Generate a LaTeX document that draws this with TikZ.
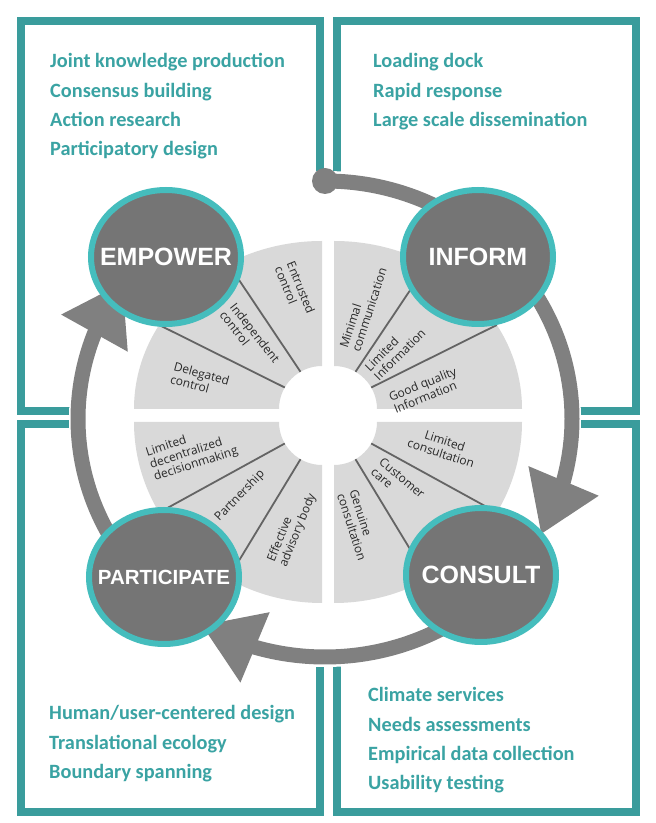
\documentclass[tikz,border=0pt]{standalone}
\usepackage{fontspec}
\usetikzlibrary{shapes.geometric, arrows.meta, bending}
\newfontfamily\itemfont{Carlito}
\newfontfamily\stagefont{Liberation Sans}
\newfontfamily\sectorfont{Open Sans}
\definecolor{boxteal}{RGB}{58,156,156}
\definecolor{textteal}{RGB}{58,163,163}
\definecolor{rimteal}{RGB}{69,189,189}
\definecolor{stagegray}{RGB}{117,117,117}
\definecolor{ringgray}{RGB}{128,128,128}
\definecolor{sectorgray}{RGB}{217,217,217}
\definecolor{spokegray}{RGB}{100,100,100}
\definecolor{labelgray}{RGB}{40,40,40}

\begin{document}
\begin{tikzpicture}[x=1pt, y=1pt,
    panel/.style={draw=boxteal, line width=8pt},
    item/.style={anchor=base west, inner sep=0pt, text=textteal, font=\itemfont\bfseries\fontsize{20.3}{20.3}\selectfont},
    stage/.style={ellipse, draw=rimteal, line width=6pt, fill=stagegray, minimum width=150pt, minimum height=134pt, inner sep=0pt, text=white, font=\stagefont\bfseries\fontsize{25}{25}\selectfont},
    sector/.style={fill=sectorgray},
    spoke/.style={draw=spokegray, line width=1.8pt},
    seclabel/.style={align=left, inner sep=0pt, text=labelgray, font=\sectorfont\fontsize{12}{13}\selectfont},
    ringarc/.style={draw=ringgray, line width=15pt, -{Triangle[length=58pt, width=72pt]}}
]
    \useasboundingbox (0,0) rectangle (656,823);
    \fill[white] (0,0) rectangle (656,823);

    % les quatre cadres
    \draw[panel] (21,412) rectangle (320,802);
    \draw[panel] (337,412) rectangle (636,802);
    \draw[panel] (21,11) rectangle (320,399);
    \draw[panel] (337,11) rectangle (636,399);

    % fond blanc sous l'anneau
    \coordinate (ringc) at (325,404);
    \fill[white] (ringc) ellipse[x radius=256, y radius=248];

    % roue en quatre quarts
    \foreach \cx/\cy/\a/\ry in {322/414/90/168, 334/414/0/168, 334/401/270/181, 322/401/180/181}{
        \begin{scope}[shift={(\cx,\cy)}]
            \fill[sector] (\a:43) -- (\a:188 and \ry) arc[start angle=\a, delta angle=90, x radius=188, y radius=\ry] -- (\a+90:43) arc[start angle=\a+90, delta angle=-90, radius=43] -- cycle;
            \foreach \s in {30,60}
                \draw[spoke] (\a+\s:43) -- (\a+\s:188 and \ry);
        \end{scope}
    }

    % anneau avec flèches
    \path (ringc) ++(90:247 and 238) coordinate (ringtop);
    \path (ringc) ++(-45:247 and 238) coordinate (ringright);
    \path (ringc) ++(215:247 and 238) coordinate (ringleft);
    \draw[ringarc] (ringtop) arc[start angle=90, end angle=-29, x radius=247, y radius=238];
    \draw[ringarc] (ringright) arc[start angle=-45, end angle=-120, x radius=247, y radius=238];
    \draw[ringarc] (ringleft) arc[start angle=215, end angle=145, x radius=247, y radius=238];
    \fill[ringgray] (ringtop) circle[radius=13];

    % étiquettes des secteurs
    \node[seclabel, rotate=-68] (entrusted) at (295,533) {Entrusted\\control};
    \node[seclabel, rotate=-52] (independent) at (250,486) {Independent\\control};
    \node[seclabel, rotate=-15] (delegated) at (200,443) {Delegated\\control};
    \node[seclabel, rotate=72] (minimal) at (363,515) {Minimal\\communication};
    \node[seclabel, rotate=45] (limitedinfo) at (395,473) {Limited\\Information};
    \node[seclabel, rotate=22] (goodinfo) at (425,433) {Good quality\\Information};
    \node[seclabel, rotate=-18, align=center] (limitedcons) at (443,376) {Limited\\consultation};
    \node[seclabel, rotate=-40] (customer) at (398,340) {Customer\\care};
    \node[seclabel, rotate=-72] (genuine) at (358,298) {Genuine\\consultation};
    \node[seclabel, rotate=18] (decentral) at (192,371) {Limited\\decentralized\\decisionmaking};
    \node[seclabel, rotate=46] (partnership) at (240,327) {Partnership};
    \node[seclabel, rotate=68] (advisory) at (292,295) {Effective\\advisory body};

    % les quatre étapes
    \node[stage] (empower) at (166,566) {\makebox[0pt]{EMPOWER}};
    \node[stage] (inform) at (478,566) {\makebox[0pt]{INFORM}};
    \node[stage] (consult) at (481,248) {\makebox[0pt]{CONSULT}};
    \node[stage, font=\stagefont\bfseries\fontsize{20.5}{20.5}\selectfont] (participate) at (164,246) {\makebox[0pt]{PARTICIPATE}};

    % listes des cadres
    \foreach \t [count=\i] in {Joint knowledge production, Consensus building, Action research, Participatory design}
        \node[item] (empoweritem\i) at (50, 784.3-29.3*\i) {\t};
    \foreach \t [count=\i] in {Loading dock, Rapid response, Large scale dissemination}
        \node[item] (informitem\i) at (373, 784.3-29.3*\i) {\t};
    \foreach \t [count=\i] in {{Human/user-centered design}, Translational ecology, Boundary spanning}
        \node[item] (participateitem\i) at (49, 132.3-29.3*\i) {\t};
    \foreach \t [count=\i] in {Climate services, Needs assessments, Empirical data collection, Usability testing}
        \node[item] (consultitem\i) at (368, 150.3-29.3*\i) {\t};
\end{tikzpicture}
\end{document}
